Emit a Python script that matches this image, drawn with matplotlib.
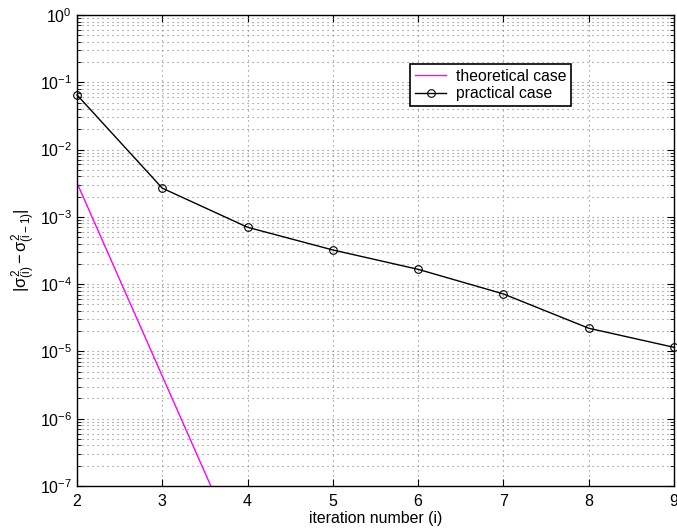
import matplotlib

matplotlib.use("Agg")
import matplotlib.pyplot as plt
import numpy as np
from matplotlib.ticker import LogLocator, NullFormatter

# values
iters = [2, 3, 4, 5, 6, 7, 8, 9]
practical = [6.5e-2, 2.67e-3, 7.0e-4, 3.22e-4, 1.66e-4, 7.15e-5, 2.21e-5, 1.15e-5]
theo_iters = [2, 3, 4]
theoretical = [3.2e-3, 4.3e-6, 5.8e-9]

plt.rcParams.update({
    "font.family": ["Liberation Sans", "DejaVu Sans"],
    "mathtext.fontset": "custom",
    "mathtext.rm": "Liberation Sans",
    "mathtext.it": "Liberation Sans",
    "mathtext.bf": "Liberation Sans:bold",
    "font.size": 11,
})

fig = plt.figure(figsize=(6.77, 5.32), dpi=100)
ax = fig.add_axes([0.1137, 0.0865, 0.8819, 0.8853])

ax.plot(theo_iters, theoretical, color="#ff00ff", linewidth=1.0, label="theoretical case")
ax.plot(iters, practical, color="black", linewidth=1.0, marker="o", markersize=5.5,
        markerfacecolor="none", markeredgecolor="black", markeredgewidth=0.8,
        label="practical case", clip_on=False)

ax.set_yscale("log")
ax.set_xlim(2, 9)
ax.set_ylim(1e-7, 1e0)
ax.set_xticks(iters)
ax.yaxis.set_major_locator(LogLocator(base=10, numticks=10))
ax.yaxis.set_minor_locator(LogLocator(base=10, subs=np.arange(2, 10), numticks=100))
ax.yaxis.set_minor_formatter(NullFormatter())

dots = (0, (1, 3.5))
ax.grid(True, which="major", linestyle=dots, color="#808080", linewidth=0.8)
ax.grid(True, which="minor", axis="y", linestyle=dots, color="#808080", linewidth=0.8)
ax.tick_params(which="both", direction="in", top=True, right=True, labelsize=11.5)
ax.tick_params(axis="x", which="major", pad=6)
ax.tick_params(which="major", length=5)
ax.tick_params(which="minor", length=3)
for sp in ax.spines.values():
    sp.set_linewidth(1.0)

ax.set_xlabel("iteration number (i)", fontsize=11.4, labelpad=1)
ax.set_ylabel(r"$|\sigma^2_{(i)}-\sigma^2_{(i-1)}|$", fontsize=12, labelpad=1)

leg = ax.legend(loc="upper left", bbox_to_anchor=(0.558, 0.896), borderaxespad=0,
                fancybox=False, framealpha=1, edgecolor="black", fontsize=11.3,
                handlelength=2.0, borderpad=0.3, labelspacing=0.15, handletextpad=0.6)
leg.get_frame().set_linewidth(1.2)

fig.savefig("out.png", dpi=100)
